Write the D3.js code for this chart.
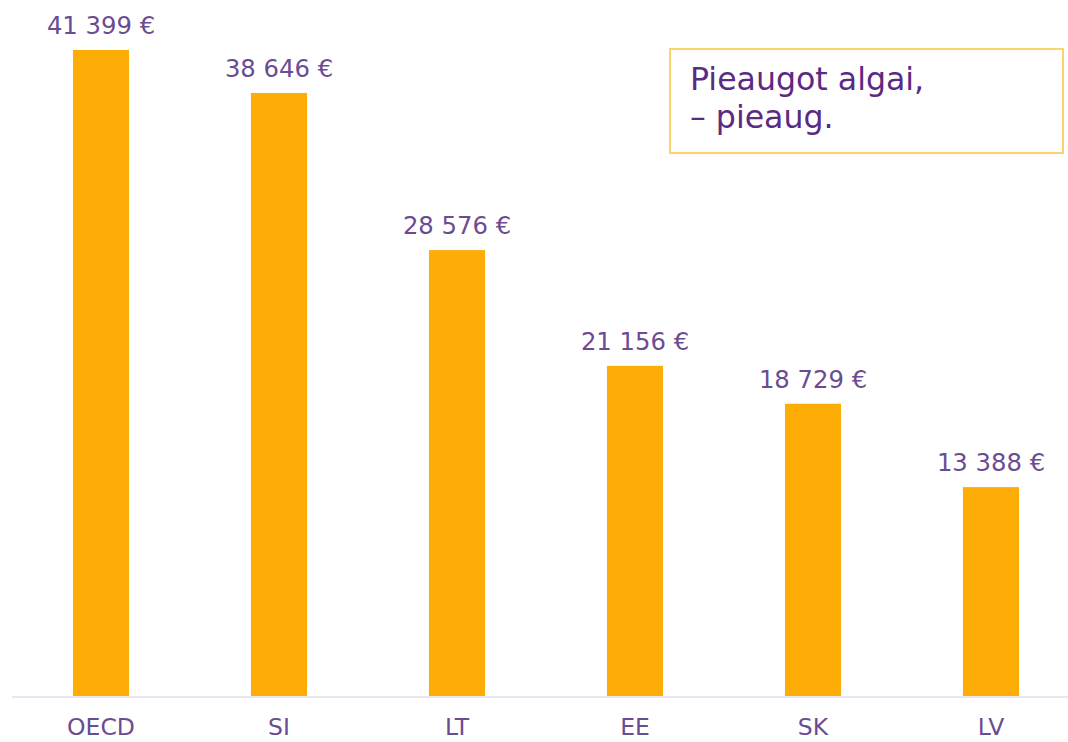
<!DOCTYPE html>
<html><head><meta charset="utf-8">
<script src="https://cdn.jsdelivr.net/npm/d3@7"></script>
<style>body{margin:0;background:#fff}svg{display:block}text{font-family:"DejaVu Sans",Verdana,sans-serif}</style>
</head><body>
<svg id="c" width="1068" height="742"></svg>
<script>
const categories = ["OECD","SI","LT","EE","SK","LV"];
const values = [41399, 38646, 28576, 21156, 18729, 13388];
const valueLabels = ["41 399 €","38 646 €","28 576 €","21 156 €","18 729 €","13 388 €"];
const noteLines = ["Pieaugot algai,","– pieaug."];

const svg = d3.select("#c");
const x = d3.scaleBand().domain(categories).range([12,1080]).paddingInner(0.685).paddingOuter(0.3425);
const y = d3.scaleLinear().domain([0,41399]).range([696,50]);

svg.append("g").selectAll("rect").data(values).join("rect")
  .attr("x",(d,i)=>x(categories[i])).attr("width",x.bandwidth())
  .attr("y",d=>y(d)).attr("height",d=>y(0)-y(d)).attr("fill","#FDAD06");

svg.append("line").attr("x1",12).attr("x2",1068).attr("y1",697).attr("y2",697)
  .attr("stroke","#E3DDEE").attr("stroke-width",1.5);

svg.append("g").selectAll("text").data(values).join("text")
  .attr("x",(d,i)=>x(categories[i])+x.bandwidth()/2).attr("y",d=>y(d)-16)
  .attr("text-anchor","middle").attr("font-size",24.3).attr("fill","#6A4C93")
  .text((d,i)=>valueLabels[i]);

const xa = svg.append("g").attr("transform","translate(0,697)")
  .call(d3.axisBottom(x).tickSize(0).tickPadding(21));
xa.select(".domain").remove();
xa.selectAll("text").attr("font-size",23.5).attr("fill","#6A4C93").attr("font-family","DejaVu Sans");

svg.append("rect").attr("x",670).attr("y",49).attr("width",393).attr("height",104)
  .attr("fill","none").attr("stroke","#FDD46A").attr("stroke-width",2);
svg.append("g").selectAll("text").data(noteLines).join("text")
  .attr("x",690).attr("y",(d,i)=>90+i*38).attr("font-size",31.6).attr("fill","#5B2A82")
  .text(d=>d);
</script></body></html>
